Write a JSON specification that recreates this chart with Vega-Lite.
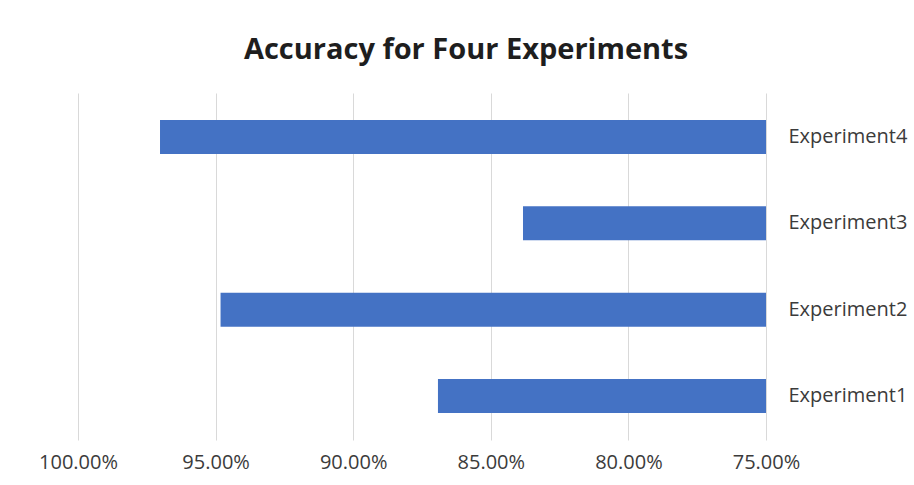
{
  "$schema": "https://vega.github.io/schema/vega-lite/v6.json",
  "width": 688,
  "height": 347,
  "autosize": "none",
  "padding": {"left": 78, "top": 93, "right": 148, "bottom": 45},
  "background": "white",
  "title": {
    "text": "Accuracy for Four Experiments",
    "font": "Open Sans",
    "fontSize": 29,
    "fontWeight": "bold",
    "color": "#1e1e1e",
    "anchor": "middle",
    "dx": 44,
    "baseline": "alphabetic",
    "offset": 5
  },
  "config": {"view": {"stroke": null}},
  "data": {
    "values": [
      {"experiment": "Experiment1", "accuracy": 0.8692},
      {"experiment": "Experiment2", "accuracy": 0.9482},
      {"experiment": "Experiment3", "accuracy": 0.8383},
      {"experiment": "Experiment4", "accuracy": 0.9702}
    ]
  },
  "mark": {"type": "bar", "color": "#4472C4"},
  "encoding": {
    "y": {
      "field": "experiment",
      "type": "nominal",
      "sort": "descending",
      "scale": {"paddingInner": 0.606, "paddingOuter": 0.313},
      "axis": {
        "orient": "right",
        "title": null,
        "domain": false,
        "ticks": false,
        "grid": false,
        "labelPadding": 22,
        "labelFont": "Open Sans",
        "labelFontSize": 20,
        "labelColor": "#3b3b3b"
      }
    },
    "x": {
      "field": "accuracy",
      "type": "quantitative",
      "scale": {"domain": [0.75, 1.0], "reverse": true, "zero": false, "nice": false},
      "axis": {
        "title": null,
        "values": [0.75, 0.8, 0.85, 0.9, 0.95, 1.0],
        "format": ".2%",
        "domain": false,
        "ticks": false,
        "grid": true,
        "gridColor": "#d9d9d9",
        "gridWidth": 1,
        "labelPadding": 12,
        "labelFont": "Open Sans",
        "labelFontSize": 20,
        "labelColor": "#3b3b3b",
        "labelFlush": false
      }
    },
    "x2": {"datum": 0.75}
  }
}
